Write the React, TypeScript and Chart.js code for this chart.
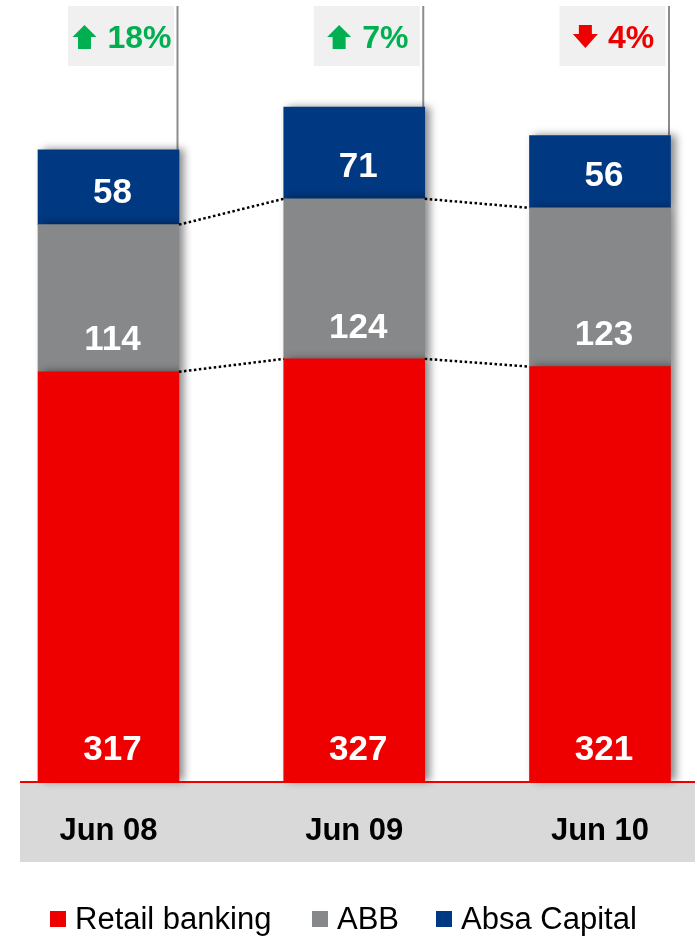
import { useEffect, useRef } from "react";
import { Chart, registerables } from "chart.js";

Chart.register(...registerables);

const categories = ["Jun 08", "Jun 09", "Jun 10"];
const retailBanking = [317, 327, 321];
const abb = [114, 124, 123];
const absaCapital = [58, 71, 56];
const changeLabels = ["18%", "7%", "4%"];
const changeDirections = ["up", "up", "down"];
const seriesNames = ["Retail banking", "ABB", "Absa Capital"];
const seriesColors = ["#EE0000", "#87888A", "#003882"];
const Y_MAX = 605;

const FONT = '"Liberation Sans", Arial, Helvetica, sans-serif';

const decorPlugin = {
  id: "decor",
  beforeDraw(chart: any) {
    const { ctx, chartArea } = chart;
    ctx.save();
    ctx.fillStyle = "#D9D9D9";
    ctx.fillRect(20, chartArea.bottom + 2, 675, 79);
    ctx.restore();
  },
  beforeDatasetsDraw(chart: any) {
    const { ctx } = chart;
    const topMeta = chart.getDatasetMeta(2);
    topMeta.data.forEach((el: any, i: number) => {
      const p = el.getProps(["x", "y", "base", "width"], true);
      const right = p.x + p.width / 2;
      ctx.save();
      ctx.strokeStyle = "#8C8C8C";
      ctx.lineWidth = 2;
      ctx.beginPath();
      ctx.moveTo(right - 1.5, 6);
      ctx.lineTo(right - 1.5, p.y);
      ctx.stroke();
      const boxL = right - 111;
      const boxW = 106;
      ctx.fillStyle = "#F0F0F0";
      ctx.fillRect(boxL, 6, boxW, 60);
      const up = changeDirections[i] === "up";
      const color = up ? "#00B050" : "#EE0000";
      ctx.font = `bold 32px ${FONT}`;
      const tw = ctx.measureText(changeLabels[i]).width;
      const groupW = 24 + 11 + tw;
      const ax = boxL + boxW / 2 - groupW / 2 + 1;
      ctx.fillStyle = color;
      ctx.beginPath();
      if (up) {
        ctx.moveTo(ax, 37);
        ctx.lineTo(ax + 12, 25);
        ctx.lineTo(ax + 24, 37);
        ctx.lineTo(ax + 18.5, 37);
        ctx.lineTo(ax + 18.5, 49);
        ctx.lineTo(ax + 5.5, 49);
        ctx.lineTo(ax + 5.5, 37);
      } else {
        ctx.moveTo(ax + 6, 25);
        ctx.lineTo(ax + 19, 25);
        ctx.lineTo(ax + 19, 34);
        ctx.lineTo(ax + 25, 34);
        ctx.lineTo(ax + 12.5, 48);
        ctx.lineTo(ax, 34);
        ctx.lineTo(ax + 6, 34);
      }
      ctx.closePath();
      ctx.fill();
      ctx.textAlign = "left";
      ctx.textBaseline = "middle";
      ctx.fillText(changeLabels[i], ax + 35, 39);
      ctx.restore();
    });
    ctx.save();
    ctx.shadowColor = "rgba(0,0,0,0.45)";
    ctx.shadowOffsetX = 5;
    ctx.shadowOffsetY = 0;
    ctx.shadowBlur = 8;
  },
  afterDatasetsDraw(chart: any) {
    const { ctx, chartArea } = chart;
    ctx.restore();
    ctx.save();
    ctx.strokeStyle = "#EE0000";
    ctx.lineWidth = 2;
    ctx.beginPath();
    ctx.moveTo(20, chartArea.bottom + 1);
    ctx.lineTo(695, chartArea.bottom + 1);
    ctx.stroke();
    ctx.strokeStyle = "#000";
    ctx.lineWidth = 2.5;
    ctx.setLineDash([2.5, 2.5]);
    [0, 1].forEach((di) => {
      const meta = chart.getDatasetMeta(di);
      for (let i = 0; i < meta.data.length - 1; i++) {
        const a = meta.data[i].getProps(["x", "y", "width"], true);
        const b = meta.data[i + 1].getProps(["x", "y", "width"], true);
        ctx.beginPath();
        ctx.moveTo(a.x + a.width / 2, a.y);
        ctx.lineTo(b.x - b.width / 2, b.y);
        ctx.stroke();
      }
    });
    ctx.setLineDash([]);
    ctx.fillStyle = "#FFFFFF";
    ctx.font = `bold 35px ${FONT}`;
    ctx.textAlign = "center";
    ctx.textBaseline = "middle";
    chart.data.datasets.forEach((ds: any, di: number) => {
      const meta = chart.getDatasetMeta(di);
      meta.data.forEach((el: any, i: number) => {
        const p = el.getProps(["x", "y", "base"], true);
        ctx.fillText(String(ds.data[i]), p.x + 4, p.base - 31);
      });
    });
    ctx.restore();
  },
};

export default function App() {
  const ref = useRef<HTMLCanvasElement | null>(null);
  useEffect(() => {
    if (!ref.current) return;
    const seriesData = [retailBanking, abb, absaCapital];
    const chart = new Chart(ref.current, {
      type: "bar",
      data: {
        labels: categories,
        datasets: seriesData.map((d, i) => ({
          label: seriesNames[i],
          data: d,
          backgroundColor: seriesColors[i],
          borderWidth: 0,
          barThickness: 141,
          clip: false as any,
        })),
      },
      options: {
        responsive: false,
        animation: false,
        devicePixelRatio: 1,
        layout: { padding: { left: 108.5, right: 97, top: 0, bottom: 0 } },
        plugins: { legend: { display: false }, tooltip: { enabled: false } },
        scales: {
          x: {
            stacked: true,
            offset: false,
            grid: { display: false },
            border: { display: false },
            ticks: {
              font: { family: FONT, size: 31, weight: "bold" },
              color: "#000",
              padding: 24,
              autoSkip: false,
              maxRotation: 0,
            },
            afterFit: (s: any) => {
              s.height = 156;
            },
          },
          y: { stacked: true, display: false, min: 0, max: Y_MAX },
        },
      },
      plugins: [decorPlugin],
    } as any);
    return () => chart.destroy();
  }, []);

  const legendLeft = [50, 312, 436];
  return (
    <div style={{ position: "fixed", left: 0, top: 0, width: 697, height: 937, background: "#fff" }}>
      <canvas ref={ref} width={697} height={937} style={{ width: 697, height: 937, display: "block" }} />
      {seriesNames.map((n, i) => (
        <div
          key={n}
          style={{
            position: "absolute",
            left: legendLeft[i],
            top: 902,
            height: 34,
            display: "flex",
            alignItems: "center",
            fontFamily: FONT,
            fontSize: 31,
            color: "#000",
            whiteSpace: "nowrap",
          }}
        >
          <span style={{ width: 16, height: 16, background: seriesColors[i], marginRight: 9, display: "inline-block" }} />
          <span>{n}</span>
        </div>
      ))}
    </div>
  );
}
